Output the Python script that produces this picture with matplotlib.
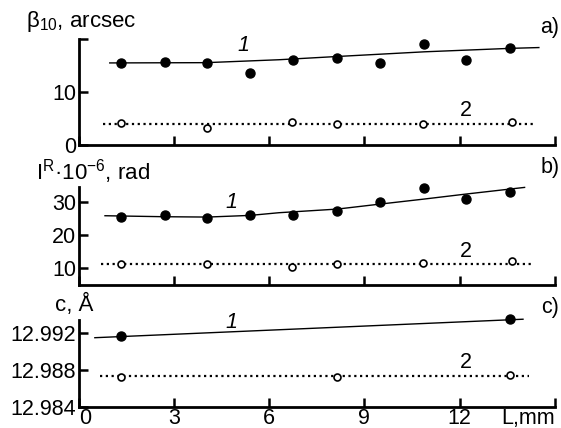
import matplotlib
matplotlib.use('Agg')
import matplotlib.pyplot as plt

plt.rcParams['font.family'] = ['Liberation Sans', 'DejaVu Sans']
plt.rcParams['mathtext.default'] = 'regular'

# x positions of the measured points, mm
L_pts = [1.32, 2.7, 4.05, 5.4, 6.76, 8.14, 9.5, 10.88, 12.2, 13.6]
L_open = [1.32, 4.03, 6.72, 8.12, 10.85, 13.65]

# a) beta_10, arcsec
beta1 = [15.4, 15.6, 15.5, 13.6, 16.0, 16.5, 15.5, 19.0, 16.0, 18.4]
beta2 = [4.2, 3.3, 4.4, 3.95, 3.9, 4.3]
beta1_fit_x = [0.97, 4.0, 6.3, 8.1, 10.9, 13.6, 14.5]
beta1_fit_y = [15.5, 15.55, 16.1, 16.7, 17.6, 18.25, 18.4]
beta2_fit_x = [0.76, 14.35]
beta2_fit_y = [3.95, 3.95]

# b) I^R * 10^-6, rad
ir1 = [25.5, 25.9, 25.2, 25.9, 25.9, 27.3, 29.8, 34.1, 30.8, 32.8]
ir2 = [11.3, 11.3, 10.5, 11.2, 11.7, 12.3]
ir1_fit_x = [0.82, 2.7, 4.05, 5.4, 6.3, 8.15, 9.5, 10.88, 12.2, 14.05]
ir1_fit_y = [25.8, 25.5, 25.4, 25.9, 26.7, 27.8, 29.3, 30.8, 32.3, 34.3]
ir2_fit_x = [0.7, 14.3]
ir2_fit_y = [11.3, 11.3]

# c) lattice parameter c, A
c1_x = [1.32, 13.6]
c1 = [12.9917, 12.9935]
c2_x = [1.32, 8.12, 13.6]
c2 = [12.98728, 12.9872, 12.9875]
c1_fit_x = [0.5, 14.0]
c1_fit_y = [12.9915, 12.9935]
c2_fit_x = [0.66, 14.2]
c2_fit_y = [12.98738, 12.98738]

xticks = [0, 3, 6, 9, 12, 15]
xticklabels = ['0', '3', '6', '9', '12', 'L,mm']

fig = plt.figure(figsize=(5.61, 4.28), dpi=100)
left, width = 0.1408, 0.848
ax_a = fig.add_axes([left, 0.661, width, 0.2477])
ax_b = fig.add_axes([left, 0.334, width, 0.2297])
ax_c = fig.add_axes([left, 0.049, width, 0.203])

fs = 15.5


def style(ax, last=False):
    for s in ['top', 'right']:
        ax.spines[s].set_visible(False)
    for s in ['left', 'bottom']:
        ax.spines[s].set_linewidth(2.0)
    ax.set_xlim(0, 15)
    ax.set_xticks(xticks)
    ax.tick_params(direction='in', length=6.5, width=1.8, labelsize=fs, pad=2)
    ax.tick_params(axis='x', pad=0.5)
    if last:
        ax.set_xticklabels(xticklabels)
        labels = ax.get_xticklabels()
        labels[0].set_horizontalalignment('left')
        labels[-1].set_horizontalalignment('right')
    else:
        ax.set_xticklabels([])


def draw(ax, fx1, fy1, x1, y1, fx2, fy2, x2, y2):
    ax.plot(fx1, fy1, color='black', lw=1.0, clip_on=False)
    ax.plot(x1, y1, 'o', color='black', ms=6.5, clip_on=False)
    ax.plot(fx2, fy2, color='black', lw=1.6, ls=(0, (1, 1.6)))
    ax.plot(x2, y2, 'o', mfc='white', mec='black', ms=5, mew=1.2, clip_on=False)


# panel a
draw(ax_a, beta1_fit_x, beta1_fit_y, L_pts, beta1,
     beta2_fit_x, beta2_fit_y, L_open, beta2)
ax_a.set_ylim(0, 20)
ax_a.set_yticks([0, 10, 20])
ax_a.set_yticklabels(['0', '10', ''])
style(ax_a)
ax_a.text(5.2, 17.8, '1', fontsize=fs, style='italic', ha='center')
ax_a.text(12.2, 5.4, '2', fontsize=fs, ha='center')
fig.text(550 / 561, 1 - 27 / 428, 'a)', fontsize=fs, ha='center', va='center')
fig.text(26 / 561, 1 - 22 / 428, r'$\beta_{10}$, arcsec', fontsize=16,
         ha='left', va='center')

# panel b
draw(ax_b, ir1_fit_x, ir1_fit_y, L_pts, ir1,
     ir2_fit_x, ir2_fit_y, L_open, ir2)
ax_b.set_ylim(5, 34.5)
ax_b.set_yticks([10, 20, 30])
style(ax_b)
ax_b.text(4.8, 28.0, '1', fontsize=fs, style='italic', ha='center')
ax_b.text(12.2, 13.4, '2', fontsize=fs, ha='center')
fig.text(550 / 561, 1 - 167 / 428, 'b)', fontsize=fs, ha='center', va='center')
fig.text(36 / 561, 1 - 172 / 428, 'I$^{R}$\u00b710$^{\u22126}$, rad', fontsize=16,
         ha='left', va='center')

# panel c
draw(ax_c, c1_fit_x, c1_fit_y, c1_x, c1,
     c2_fit_x, c2_fit_y, c2_x, c2)
ax_c.set_ylim(12.984, 12.9934)
ax_c.set_yticks([12.984, 12.988, 12.992])
ax_c.set_yticklabels(['12.984', '12.988', '12.992'])
style(ax_c, last=True)
ax_c.text(4.8, 12.9925, '1', fontsize=fs, style='italic', ha='center')
ax_c.text(12.2, 12.9882, '2', fontsize=fs, ha='center')
fig.text(550 / 561, 1 - 308 / 428, 'c)', fontsize=fs, ha='center', va='center')
fig.text(55 / 561, 1 - 305 / 428, 'c, \u00c5', fontsize=16,
         ha='left', va='center')

fig.savefig('out.png', dpi=100)
